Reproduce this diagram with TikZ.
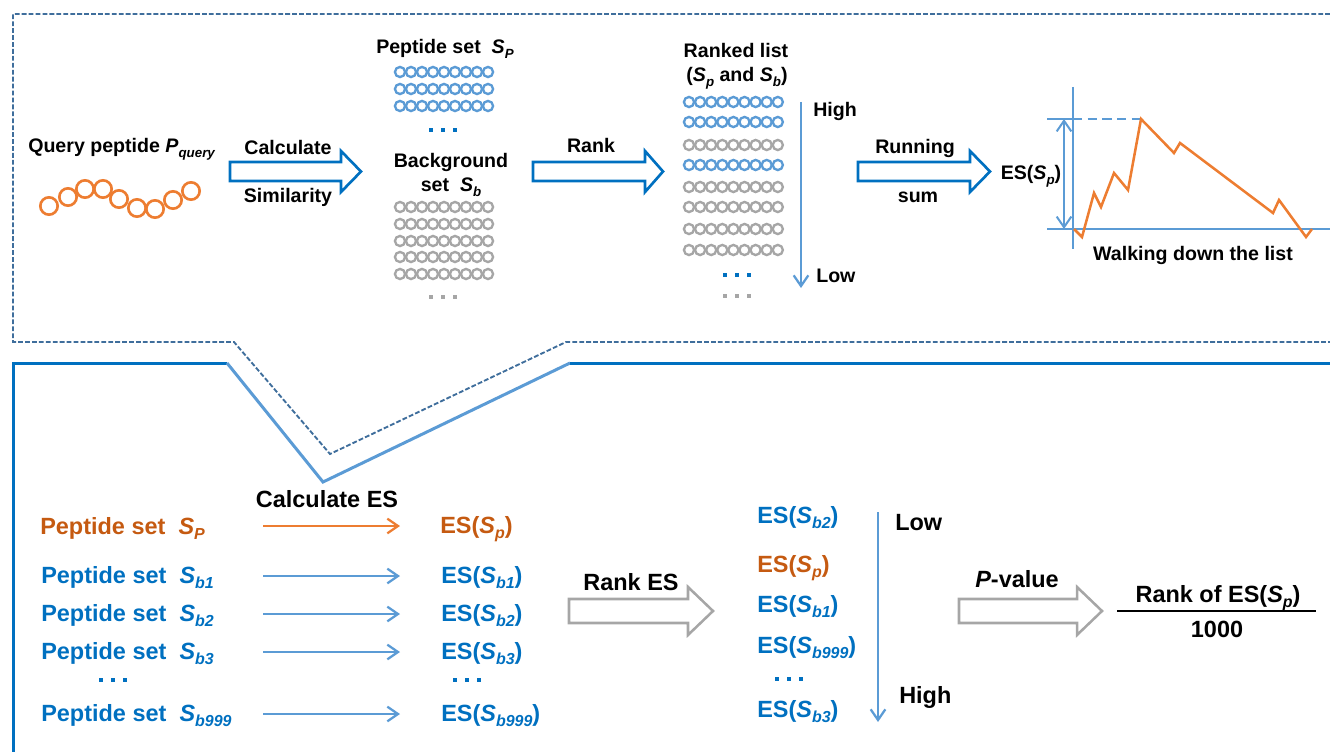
\documentclass[tikz,border=0pt]{standalone}
\usepackage{fontspec}
\setmainfont{Liberation Sans}
\usetikzlibrary{arrows.meta}
\definecolor{dblue}{HTML}{0070C0}
\definecolor{lblue}{HTML}{5B9BD5}
\definecolor{frameblue}{HTML}{3F6E9C}
\definecolor{orng}{HTML}{ED7D31}
\definecolor{orngtxt}{HTML}{C55A11}
\definecolor{gry}{HTML}{A6A6A6}
\newcommand\mysub[1]{\raisebox{-0.45ex}{\scalebox{0.68}{\textit{#1}}}}
\newcommand\myS[1]{\textit{S}\mysub{#1}}
\begin{document}
\begin{tikzpicture}[x=0.75pt,y=-0.75pt,
  ttxt/.style={font=\fontsize{14.7}{17}\selectfont\bfseries, inner sep=0pt, anchor=base},
  btxt/.style={font=\fontsize{17.6}{20}\selectfont\bfseries, inner sep=0pt, anchor=base},
  blkarrow/.style={draw=dblue, line width=2pt, line join=miter},
  gryarrow/.style={draw=gry, line width=1.9pt, line join=miter},
  thinarrow/.style={draw=lblue, line width=1.7pt, -{Straight Barb[length=8pt,width=11pt,line width=1.7pt]}},
  orngarrow/.style={draw=orng, line width=1.7pt, -{Straight Barb[length=8pt,width=11pt,line width=1.7pt]}},
  ringb/.style={draw=lblue, line width=1.75pt},
  ringg/.style={draw=gry, line width=1.75pt},
  ringo/.style={draw=orng, line width=2pt},
  axisline/.style={draw=lblue, line width=1.5pt},
  dashframe/.style={draw=frameblue, line width=1.4pt, dash pattern=on 3.6pt off 1.6pt},
  solidframe/.style={line width=2.25pt, line join=miter},
  dotrow/.pic={\foreach \i in {-1,0,1} \fill[pic actions] (\i*12-2.4,-2.4) rectangle ++(4.8,4.8);}
]
\useasboundingbox (0,0) rectangle (1330,752);

% ---------- frames
\draw[dashframe] (1330,14) -- (13,14) -- (13,342) -- (234,342) -- (330,454) -- (566,342) -- (1330,342);
\draw[solidframe, dblue] (13,752) -- (13,363) -- (227,363);
\draw[solidframe, lblue] (227,363) -- (323,482) -- (570,363);
\draw[solidframe, dblue] (570,363) -- (1330,363);

% ---------- top: query peptide
\node[ttxt, anchor=base west] (query) at (28,153) {Query peptide \textit{P}\mysub{query}};
\foreach \cx/\cy in {49/206, 68/197, 85/189, 103/189, 119/199, 137/208, 155/209, 173/200, 191/191}
  \draw[ringo] (\cx,\cy) circle[radius=6.5pt];

% block arrow 1
\draw[blkarrow] (230,162) -- (341,162) -- (341,151) -- (361,171.5) -- (341,192) -- (341,181) -- (230,181) -- cycle;
\node[ttxt] (calc) at (288,155) {Calculate};
\node[ttxt] (simil) at (288,203) {Similarity};

% peptide set and background set
\node[ttxt, anchor=base west] (psetlbl) at (376,54) {Peptide set\ \ \myS{P}};
\foreach \r in {72,89,106} \foreach \k in {0,...,8}
  \draw[ringb] (400+11*\k,\r) circle[radius=3.8pt];
\pic[fill=dblue] at (443,130) {dotrow};
\node[ttxt] (bg1) at (451,168) {Background};
\node[ttxt] (bg2) at (451,192) {set\ \ \myS{b}};
\foreach \r in {207,224,241,257,274} \foreach \k in {0,...,8}
  \draw[ringg] (400+11*\k,\r) circle[radius=3.8pt];
\pic[fill=gry] at (443,297) {dotrow};

% rank arrow
\draw[blkarrow] (533,162) -- (645,162) -- (645,151) -- (663,171.5) -- (645,192) -- (645,181) -- (533,181) -- cycle;
\node[ttxt] (rank) at (591,153) {Rank};

% ranked list
\node[ttxt] (rl1) at (736,58) {Ranked list};
\node[ttxt] (rl2) at (737,82) {(\myS{p} and \myS{b})};
\foreach \r/\c in {102/b,122/b,145/g,165/b,187/g,207/g,229/g,250/g} \foreach \k in {0,...,8}
  \draw[ring\c] (689+11.1*\k,\r) circle[radius=3.8pt];
\pic[fill=dblue] at (737,275) {dotrow};
\pic[fill=gry] at (737,296) {dotrow};
\coordinate (hl1) at (801,102);
\coordinate (hl2) at (801,288);
\draw[thinarrow] (hl1) -- (hl2);
\node[ttxt, anchor=base west] (high) at (813,117) {High};
\node[ttxt, anchor=base west] (low) at (816,282) {Low};

% running sum arrow
\draw[blkarrow] (858,162) -- (970,162) -- (970,151) -- (990,171.5) -- (970,192) -- (970,181) -- (858,181) -- cycle;
\node[ttxt] (run1) at (915,154) {Running};
\node[ttxt] (run2) at (918,203) {sum};
\node[ttxt] (esp) at (1031,180) {ES(\myS{p})};

% graph
\coordinate (ya1) at (1073,87);
\coordinate (ya2) at (1073,249);
\coordinate (xa1) at (1047,229);
\coordinate (xa2) at (1330,229);
\coordinate (tk1) at (1047,119);
\coordinate (tk2) at (1073,119);
\coordinate (tk3) at (1141,119);
\coordinate (da1) at (1064,119);
\coordinate (da2) at (1064,229);
\draw[axisline] (ya1) -- (ya2);
\draw[axisline] (xa1) -- (xa2);
\draw[axisline] (tk1) -- (tk2);
\draw[axisline, dash pattern=on 7pt off 4pt] (tk2) -- (tk3);
\draw[axisline, {Straight Barb[length=8pt,width=11pt,line width=1.5pt]}-{Straight Barb[length=8pt,width=11pt,line width=1.5pt]}] (da1) -- (da2);
\draw[orng, line width=1.9pt, line join=miter] (1074,229) -- (1082,237) -- (1094,193) -- (1101,207) -- (1114,173) -- (1128,190) -- (1141,119) -- (1174,153) -- (1180,143) -- (1273,213) -- (1279,200) -- (1306,237) -- (1312,229);
\node[ttxt] (walk) at (1193,260) {Walking down the list};

% ---------- bottom
\node[btxt] (calces) at (327,507) {Calculate ES};
\node[btxt, anchor=base west, text=orngtxt] (r0) at (40,534) {Peptide set\ \ \myS{P}};
\node[btxt, anchor=base west, text=dblue] (r1) at (41,583) {Peptide set\ \ \myS{b1}};
\node[btxt, anchor=base west, text=dblue] (r2) at (41,621) {Peptide set\ \ \myS{b2}};
\node[btxt, anchor=base west, text=dblue] (r3) at (41,659) {Peptide set\ \ \myS{b3}};
\node[btxt, anchor=base west, text=dblue] (r4) at (41,721) {Peptide set\ \ \myS{b999}};
\pic[fill=dblue] at (113,680) {dotrow};

\node[btxt, anchor=base west, text=orngtxt] (e0) at (440,533) {ES(\myS{p})};
\node[btxt, anchor=base west, text=dblue] (e1) at (441,583) {ES(\myS{b1})};
\node[btxt, anchor=base west, text=dblue] (e2) at (441,621) {ES(\myS{b2})};
\node[btxt, anchor=base west, text=dblue] (e3) at (441,659) {ES(\myS{b3})};
\node[btxt, anchor=base west, text=dblue] (e4) at (441,721) {ES(\myS{b999})};
\pic[fill=dblue] at (467,680) {dotrow};

\foreach \n/\y in {0/526,1/576,2/614,3/652,4/714} {
  \coordinate (as\n) at (263,\y);
  \coordinate (ae\n) at (400,\y);
}
\draw[orngarrow] (as0) -- (ae0);
\foreach \n in {1,2,3,4} \draw[thinarrow] (as\n) -- (ae\n);

% rank ES arrow
\draw[gryarrow] (569,599) -- (688,599) -- (688,587) -- (713,611) -- (688,635) -- (688,623) -- (569,623) -- cycle;
\node[btxt] (ranks) at (631,590) {Rank ES};

% ranked ES
\node[btxt, anchor=base west, text=dblue] (q1) at (757,523) {ES(\myS{b2})};
\node[btxt, anchor=base west, text=orngtxt] (q2) at (757,572) {ES(\myS{p})};
\node[btxt, anchor=base west, text=dblue] (q3) at (757,612) {ES(\myS{b1})};
\node[btxt, anchor=base west, text=dblue] (q4) at (757,653) {ES(\myS{b999})};
\pic[fill=dblue] at (789,679) {dotrow};
\node[btxt, anchor=base west, text=dblue] (q5) at (757,717) {ES(\myS{b3})};
\coordinate (lh1) at (878,512);
\coordinate (lh2) at (878,722);
\draw[thinarrow] (lh1) -- (lh2);
\node[btxt, anchor=base west] (low2) at (895,530) {Low};
\node[btxt, anchor=base west] (high2) at (899,703) {High};

% p-value arrow
\draw[gryarrow] (959,599) -- (1077,599) -- (1077,587) -- (1102,611) -- (1077,635) -- (1077,623) -- (959,623) -- cycle;
\node[btxt] (pval) at (1017,587) {\textit{P}-value};
\node[btxt] (num) at (1218,602) {Rank of ES(\myS{p})};
\node[btxt] (den) at (1217,637) {1000};
\coordinate (fr1) at (1117,611);
\coordinate (fr2) at (1316,611);
\draw[black, line width=1.6pt] (fr1) -- (fr2);
\end{tikzpicture}
\end{document}
